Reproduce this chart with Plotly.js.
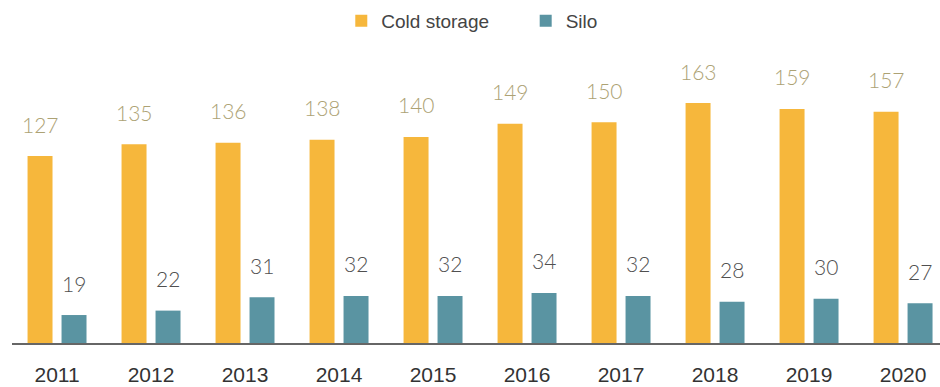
<!DOCTYPE html>
<html>
<head>
<meta charset="utf-8">
<script src="https://cdn.plot.ly/plotly-3.0.1.min.js"></script>
<style>html,body{margin:0;padding:0;background:#fff;}#chart{width:940px;height:387px;}</style>
</head>
<body>
<div id="chart"></div>
<script>
const years = ["2011","2012","2013","2014","2015","2016","2017","2018","2019","2020"];
const coldStorage = [127,135,136,138,140,149,150,163,159,157];
const silo = [19,22,31,32,32,34,32,28,30,27];

const orange = "#F6B73C";
const teal = "#5A94A2";

const traces = [
  {type:"bar", name:"Cold storage\u00A0\u00A0\u00A0\u00A0\u00A0\u00A0", x:years, y:coldStorage, marker:{color:orange}, hoverinfo:"none"},
  {type:"bar", name:"Silo", x:years, y:silo, marker:{color:teal}, hoverinfo:"none"}
];

const labelFont = "Lato, 'Open Sans', sans-serif";
const annotations = [];
years.forEach((yr,i)=>{
  annotations.push({x:i, y:coldStorage[i], xref:"x", yref:"y", text:String(coldStorage[i]), showarrow:false,
    xshift:-17, yanchor:"middle", yshift:32, font:{family:labelFont, size:21, weight:300, color:"#ADA274"}});
  annotations.push({x:i, y:silo[i], xref:"x", yref:"y", text:String(silo[i]), showarrow:false,
    xshift:17, yanchor:"middle", yshift:32, font:{family:labelFont, size:21, weight:300, color:"#505050"}});
});

const layout = {
  width:940, height:387,
  margin:{l:12, r:0, t:40, b:44},
  paper_bgcolor:"#fff", plot_bgcolor:"#fff",
  barmode:"group", bargap:0.277, bargroupgap:0.265,
  showlegend:true,
  legend:{orientation:"h", x:0.496, xanchor:"center", y:1.0, yanchor:"bottom",
    font:{family:"'Liberation Sans', Arial, sans-serif", size:19, color:"#444"}},
  xaxis:{type:"category", range:[-0.479, 9.393], showline:true, linecolor:"#666", linewidth:1.5,
    showgrid:false, zeroline:false, ticks:"outside", ticklen:12, tickcolor:"rgba(0,0,0,0)",
    tickfont:{family:"'Liberation Sans', Arial, sans-serif", size:21, color:"#333"}},
  yaxis:{range:[0,205.8], showticklabels:false, showline:false, ticks:"", showgrid:false, zeroline:false},
  annotations:annotations
};

Plotly.newPlot("chart", traces, layout, {displayModeBar:false, staticPlot:true});
</script>
</body>
</html>
